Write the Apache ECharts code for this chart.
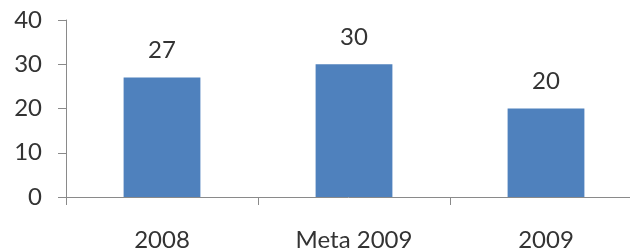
<!DOCTYPE html>
<html><head><meta charset="utf-8">
<script src="https://cdn.jsdelivr.net/npm/echarts@6/dist/echarts.min.js"></script>
<style>html,body{margin:0;padding:0;background:#fff}#c{width:630px;height:249px}</style>
</head><body><div id="c"></div>
<script>
var categories = ["2008", "Meta 2009", "2009"];
var values = [27, 30, 20];
var yTicks = [0, 10, 20, 30, 40];

var chart = echarts.init(document.getElementById('c'), null, {renderer: 'canvas'});
var font = 'Lato';
var textColor = '#333';
chart.setOption({
  animation: false,
  grid: {left: 66, width: 576, top: 20, height: 177, containLabel: false, outerBoundsMode: 'none'},
  xAxis: {
    type: 'category', data: categories,
    axisLine: {lineStyle: {color: '#8a8a8a', width: 1}},
    axisTick: {show: true, alignWithLabel: false, length: 8, lineStyle: {color: '#8a8a8a'}},
    axisLabel: {color: textColor, fontFamily: font, fontSize: 24, margin: 31}
  },
  yAxis: {
    type: 'value', min: yTicks[0], max: yTicks[yTicks.length-1], interval: 10,
    splitLine: {show: false},
    axisLine: {show: true, lineStyle: {color: '#8a8a8a', width: 1}},
    axisTick: {show: true, length: 8, lineStyle: {color: '#8a8a8a'}},
    axisLabel: {color: textColor, fontFamily: font, fontSize: 24, margin: 24}
  },
  series: [{
    type: 'bar', data: values, barWidth: '40%',
    itemStyle: {color: '#4F81BD'},
    label: {show: true, position: 'top', distance: 15, color: textColor, fontFamily: font, fontSize: 24}
  }]
});
</script></body></html>
